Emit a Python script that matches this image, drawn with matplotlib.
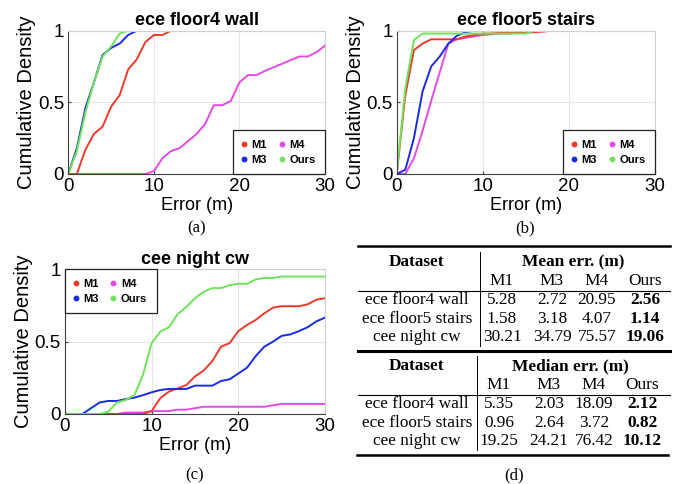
import matplotlib
matplotlib.use("Agg")
import matplotlib.pyplot as plt
import numpy as np
from matplotlib.lines import Line2D

plt.rcParams['font.family'] = ['Liberation Sans', 'DejaVu Sans']

# error axis, 1 m steps
err = np.arange(0, 31)

# (a) ece floor4 wall
a_m1 = [0, 0, 0.17, 0.28, 0.33, 0.47, 0.55, 0.73, 0.80, 0.92, 0.97, 0.97, 1, 1, 1, 1,
        1, 1, 1, 1, 1, 1, 1, 1, 1, 1, 1, 1, 1, 1, 1]
a_m3 = [0, 0.18, 0.46, 0.64, 0.83, 0.88, 0.91, 0.97, 1, 1, 1, 1, 1, 1, 1, 1,
        1, 1, 1, 1, 1, 1, 1, 1, 1, 1, 1, 1, 1, 1, 1]
a_m4 = [0, 0, 0, 0, 0, 0, 0, 0, 0, 0, 0.02, 0.11, 0.16, 0.18, 0.23, 0.28,
        0.35, 0.48, 0.48, 0.51, 0.64, 0.69, 0.69, 0.72, 0.745, 0.77, 0.795, 0.82, 0.82, 0.85, 0.895]
a_ours = [0, 0.16, 0.43, 0.64, 0.82, 0.89, 0.98, 1, 1, 1, 1, 1, 1, 1, 1, 1,
          1, 1, 1, 1, 1, 1, 1, 1, 1, 1, 1, 1, 1, 1, 1]

# (b) ece floor5 stairs
b_m1 = [0, 0.55, 0.865, 0.91, 0.94, 0.94, 0.94, 0.94, 0.96, 0.97, 0.98, 0.98, 0.985, 0.99, 0.99, 0.99,
        0.99, 0.995, 1, 1, 1, 1, 1, 1, 1, 1, 1, 1, 1, 1, 1]
b_m3 = [0, 0.03, 0.25, 0.575, 0.75, 0.82, 0.91, 0.965, 0.99, 1, 1, 1, 1, 1, 1, 1,
        1, 1, 1, 1, 1, 1, 1, 1, 1, 1, 1, 1, 1, 1, 1]
b_m4 = [0, 0, 0.11, 0.30, 0.51, 0.71, 0.91, 0.94, 0.95, 0.96, 0.97, 0.975, 0.98, 0.98, 0.985, 0.985,
        0.99, 0.995, 1, 1, 1, 1, 1, 1, 1, 1, 1, 1, 1, 1, 1]
b_ours = [0, 0.60, 0.935, 0.98, 0.98, 0.98, 0.98, 0.98, 0.98, 0.98, 0.98, 0.98, 0.98, 0.98, 0.98, 0.98,
          1, 1, 1, 1, 1, 1, 1, 1, 1, 1, 1, 1, 1, 1, 1]

# (c) cee night cw
c_m1 = [0, 0, 0, 0, 0, 0, 0, 0, 0, 0, 0.02, 0.11, 0.155, 0.177, 0.2, 0.26,
        0.30, 0.366, 0.465, 0.49, 0.573, 0.615, 0.65, 0.696, 0.735, 0.745, 0.745, 0.745, 0.758, 0.79, 0.80]
c_m3 = [0, 0, 0, 0.04, 0.08, 0.09, 0.09, 0.103, 0.113, 0.13, 0.15, 0.166, 0.173, 0.173, 0.173, 0.196,
        0.196, 0.196, 0.228, 0.24, 0.28, 0.32, 0.40, 0.465, 0.50, 0.54, 0.55, 0.573, 0.60, 0.64, 0.666]
c_m4 = [0, 0, 0, 0, 0, 0, 0, 0.01, 0.01, 0.01, 0.02, 0.02, 0.02, 0.03, 0.03, 0.04,
        0.05, 0.05, 0.05, 0.05, 0.05, 0.05, 0.05, 0.05, 0.06, 0.07, 0.07, 0.07, 0.07, 0.07, 0.07]
c_ours = [0, 0, 0, 0, 0, 0.016, 0.08, 0.097, 0.13, 0.27, 0.49, 0.57, 0.60, 0.69, 0.74, 0.80,
          0.845, 0.87, 0.87, 0.89, 0.90, 0.90, 0.93, 0.94, 0.94, 0.95, 0.95, 0.95, 0.95, 0.95, 0.95]

methods = ['M1', 'M3', 'M4', 'Ours']
colors = {'M1': '#ee3a2a', 'M3': '#1a2be0', 'M4': '#e44ae6', 'Ours': '#6ee45a'}

# table (d)
datasets = ['ece floor4 wall', 'ece floor5 stairs', 'cee night cw']
mean_err = [[5.28, 2.72, 20.95, 2.56],
            [1.58, 3.18, 4.07, 1.14],
            [30.21, 34.79, 75.57, 19.06]]
median_err = [[5.35, 2.03, 18.09, 2.12],
              [0.96, 2.64, 3.72, 0.82],
              [19.25, 24.21, 76.42, 10.12]]

W, H = 687, 484
fig = plt.figure(figsize=(W / 100, H / 100), dpi=100)
serif = ['Liberation Serif', 'DejaVu Serif']
TFS = 12.4  # table font size


def px(x, y):
    return x / W, 1 - y / H


def cdf_axes(x0, x1, y0, y1, title, series, legend_loc):
    ax = fig.add_axes([x0 / W, 1 - y1 / H, (x1 - x0) / W, (y1 - y0) / H])
    # draw M4 first so the others sit on top
    for m in ['M4', 'M1', 'M3', 'Ours']:
        ax.plot(err, series[m], color=colors[m], lw=1.4, solid_joinstyle='round')
    ax.set_xlim(0, 30)
    ax.set_ylim(0, 1)
    ax.set_xticks([0, 10, 20, 30])
    ax.set_yticks([0, 0.5, 1])
    ax.set_yticklabels(['0', '0.5', '1'])
    ax.grid(True, color='#e6e6e6', lw=0.8)
    ax.set_axisbelow(True)
    for s in ['top', 'right']:
        ax.spines[s].set_color('#d0d0d0')
        ax.spines[s].set_linewidth(0.8)
    for s in ['left', 'bottom']:
        ax.spines[s].set_color('#404040')
        ax.spines[s].set_linewidth(0.8)
    ax.tick_params(direction='in', length=2, color='#404040', labelsize=13.5, pad=3)
    ax.set_title(title, fontsize=13, fontweight='bold', pad=4)
    ax.set_xlabel('Error (m)', fontsize=13, labelpad=1)
    ax.set_ylabel('Cumulative Density', fontsize=14.5, labelpad=1)
    handles = [Line2D([], [], ls='none', marker='o', ms=3.2, color=colors[m]) for m in methods]
    leg = ax.legend(handles, methods, ncol=2, loc=legend_loc, borderaxespad=0,
                    prop={'weight': 'bold', 'size': 8}, handlelength=0.2, handletextpad=0.6,
                    columnspacing=1.2, borderpad=0.85, labelspacing=0.45,
                    fancybox=False, framealpha=1)
    leg.get_frame().set_edgecolor('#222222')
    leg.get_frame().set_linewidth(0.9)
    return ax


cdf_axes(68.3, 325, 30.7, 174, 'ece floor4 wall',
         {'M1': a_m1, 'M3': a_m3, 'M4': a_m4, 'Ours': a_ours}, 'lower right')
cdf_axes(396.7, 655, 30.7, 174, 'ece floor5 stairs',
         {'M1': b_m1, 'M3': b_m3, 'M4': b_m4, 'Ours': b_ours}, 'lower right')
cdf_axes(65, 325, 269.3, 414, 'cee night cw',
         {'M1': c_m1, 'M3': c_m3, 'M4': c_m4, 'Ours': c_ours}, 'upper left')

for lab, x, y in [('(a)', 197, 228), ('(b)', 525, 228), ('(c)', 195, 475), ('(d)', 514, 475)]:
    fig.text(*px(x, y), lab, ha='center', va='center', fontsize=12, family=serif)


def hline(x0, x1, y, lw):
    fig.add_artist(Line2D([x0 / W, x1 / W], [1 - y / H, 1 - y / H], color='black', lw=lw,
                          transform=fig.transFigure))


def vline(x, y0, y1):
    fig.add_artist(Line2D([x / W, x / W], [1 - y0 / H, 1 - y1 / H], color='black', lw=0.7,
                          transform=fig.transFigure))


def draw_table(top, heading, values, sep_x, col_x):
    # top is the y of the table's upper rule; all rows are placed by baseline
    fig.text(*px(417, top + 20.5), 'Dataset', ha='center', va='baseline', fontsize=TFS,
             family=serif, weight='bold')
    fig.text(*px((col_x[0] + col_x[-1]) / 2, top + 20.5), heading, ha='center',
             va='baseline', fontsize=TFS, family=serif, weight='bold')
    for m, cx in zip(methods, col_x):
        fig.text(*px(cx, top + 39), m, ha='center', va='baseline', fontsize=TFS, family=serif)
    hline(358, 670, top + 45, 0.8)
    for i, (d, row) in enumerate(zip(datasets, values)):
        y = top + 58.5 + i * 18.4
        fig.text(*px(417, y), d, ha='center', va='baseline', fontsize=TFS, family=serif)
        for j, (v, cx) in enumerate(zip(row, col_x)):
            fig.text(*px(cx, y), f'{v:.2f}', ha='center', va='baseline', fontsize=TFS,
                     family=serif, weight='bold' if j == 3 else 'normal')
    vline(sep_x, top + 6, top + 100)


hline(358, 670, 246, 1.8)
draw_table(246, 'Mean err. (m)', mean_err, 480, [502, 552, 597, 645])
hline(358, 670, 351, 2.2)
draw_table(350, 'Median err. (m)', median_err, 477, [499, 549, 594, 642])
hline(357, 668, 455, 1.8)

fig.savefig('out.png', dpi=100)
